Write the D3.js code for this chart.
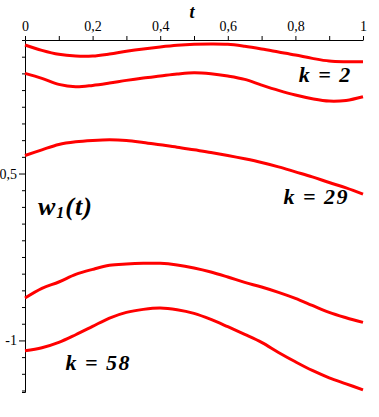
<!DOCTYPE html>
<html><head><meta charset="utf-8">
<script src="https://cdn.jsdelivr.net/npm/d3@7"></script>
<style>body{margin:0;background:#fff}svg{display:block}</style>
</head><body>
<script>
const tValues = [0,0.05,0.1,0.15,0.2,0.25,0.3,0.35,0.4,0.45,0.5,0.55,0.6,0.65,0.7,0.75,0.8,0.85,0.9,0.95,1];
const curveA = [-0.115,-0.131,-0.143,-0.148,-0.148,-0.142,-0.134,-0.127,-0.121,-0.116,-0.113,-0.112,-0.113,-0.119,-0.127,-0.136,-0.145,-0.155,-0.163,-0.165,-0.165];
const curveB = [-0.200,-0.215,-0.233,-0.240,-0.236,-0.229,-0.221,-0.214,-0.208,-0.202,-0.198,-0.201,-0.208,-0.218,-0.235,-0.251,-0.265,-0.276,-0.283,-0.281,-0.270];
const curveC = [-0.446,-0.429,-0.413,-0.405,-0.401,-0.399,-0.401,-0.407,-0.414,-0.421,-0.429,-0.437,-0.446,-0.456,-0.467,-0.480,-0.495,-0.510,-0.527,-0.543,-0.562];
const curveD = [-0.873,-0.844,-0.825,-0.802,-0.787,-0.775,-0.771,-0.769,-0.769,-0.774,-0.783,-0.795,-0.810,-0.826,-0.840,-0.856,-0.874,-0.895,-0.916,-0.932,-0.946];
const curveE = [-1.031,-1.022,-1.006,-0.983,-0.958,-0.933,-0.916,-0.907,-0.903,-0.908,-0.919,-0.937,-0.959,-0.982,-1.006,-1.036,-1.064,-1.090,-1.112,-1.130,-1.148];
const series = [curveA, curveB, curveC, curveD, curveE];
const xTicks = [0,0.1,0.2,0.3,0.4,0.5,0.6,0.7,0.8,0.9,1];
const xTickLabels = {"0":"0","0.2":"0,2","0.4":"0,4","0.6":"0,6","0.8":"0,8","1":"1"};
const yTicks = d3.range(-0.15,-1.151,-0.05).map(v=>+v.toFixed(2));
const yTickLabels = {"-0.5":"0,5","-1":"-1"};
const curveLabels = [
  {k:"2", t:0.81, v:-0.227},
  {k:"29", t:0.765, v:-0.592},
  {k:"58", t:0.12, v:-1.088}
];

const W=379,H=417;
const svg=d3.select("body").append("svg").attr("width",W).attr("height",H);
const x=d3.scaleLinear().domain([0,1]).range([25,363]);
const y=d3.scaleLinear().domain([-0.1,-1.1545]).range([40,392]);
const serif="'Liberation Serif','Times New Roman',serif";

// x axis (top)
const xAxis=d3.axisTop(x).tickValues(xTicks).tickSize(4).tickSizeOuter(0)
  .tickFormat(d=>xTickLabels[String(+d.toFixed(1))]||"");
const gx=svg.append("g").attr("transform","translate(0,40)").call(xAxis)
  .attr("font-family",serif).attr("font-size",14);
gx.select(".domain").attr("stroke","#000");
gx.selectAll(".tick line").attr("stroke","#000");
gx.selectAll("text").attr("fill","#000").attr("dy","-2");

// y axis (left)
const yAxis=d3.axisLeft(y).tickValues(yTicks).tickSizeOuter(0)
  .tickSize(3).tickFormat(d=>yTickLabels[String(d)]||"");
const gy=svg.append("g").attr("transform","translate(25,0)").call(yAxis)
  .attr("font-family",serif).attr("font-size",14);
gy.select(".domain").attr("stroke","#000");
gy.selectAll(".tick line").attr("stroke","#000")
  .attr("x2",d=>yTickLabels[String(d)]?-6:-3);
gy.selectAll("text").attr("fill","#000").attr("x",-8);

// curves
const line=d3.line().x((d,i)=>x(tValues[i])).y(d=>y(d)).curve(d3.curveCatmullRom);
svg.selectAll("path.curve").data(series).enter().append("path")
  .attr("class","curve").attr("d",line).attr("fill","none")
  .attr("stroke","#ff0000").attr("stroke-width",3).attr("stroke-linejoin","round");

// axis title t
svg.append("text").attr("x",192).attr("y",18).attr("text-anchor","middle")
  .attr("font-family",serif).attr("font-style","italic").attr("font-weight","bold")
  .attr("font-size",18).text("t");

// w1(t)
const wl=svg.append("text").attr("x",38).attr("y",215)
  .attr("font-family",serif).attr("font-style","italic").attr("font-weight","bold")
  .attr("font-size",26).attr("letter-spacing",1);
wl.append("tspan").text("w");
wl.append("tspan").attr("font-size",16).attr("dy",3).text("1");
wl.append("tspan").attr("dy",-3).text("(t)");

// k labels
svg.selectAll("text.klab").data(curveLabels).enter().append("text")
  .attr("class","klab").attr("x",d=>x(d.t)).attr("y",d=>y(d.v))
  .attr("font-family",serif).attr("font-style","italic").attr("font-weight","bold")
  .attr("font-size",22).attr("letter-spacing",1.5).text(d=>"k = "+d.k);
</script>
</body></html>
